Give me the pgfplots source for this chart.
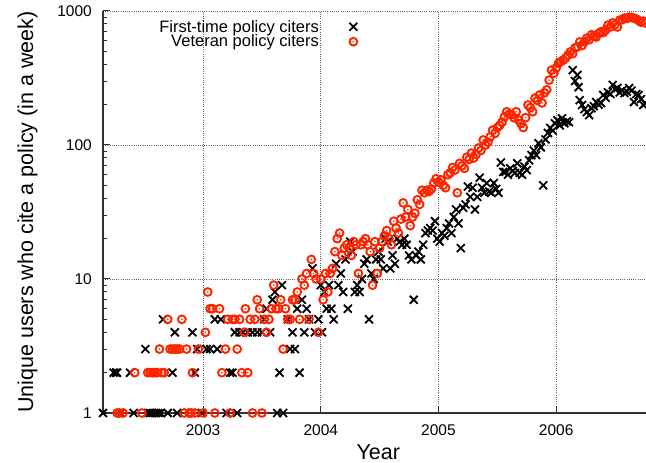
\documentclass[border=0pt]{standalone}
\usepackage{fontspec}
\setmainfont{Liberation Sans}
\usepackage{pgfplots}
\pgfplotsset{compat=1.18}
\definecolor{vet}{RGB}{255,36,0}
\definecolor{axgray}{RGB}{50,50,50}
\pgfdeclareplotmark{odot}{%
  \pgfpathcircle{\pgfpointorigin}{\pgfplotmarksize}\pgfusepathqstroke
  \pgfpathcircle{\pgfpointorigin}{0.22\pgfplotmarksize}\pgfusepathqfill}
\begin{document}
\begin{tikzpicture}
\begin{axis}[name=ax, scale only axis, width=543pt, height=402pt,
  ymode=log, xmin=2002.15, xmax=2006.763, ymin=1, ymax=1000,
  clip=false,
  axis x line*=bottom, axis y line*=left,
  axis line style={-, line width=1.4pt, axgray},
  xtick={2003,2004,2005,2006}, xticklabels={2003,2004,2005,2006},
  ytick={1,10,100,1000}, yticklabels={1,10,100,1000},
  minor ytick={2,3,...,9,20,30,...,90,200,300,...,900},
  minor xtick={},
  tick style={line width=1pt, axgray},
  major tick length=7pt, minor tick length=4pt,
  grid=major, major grid style={line width=0.7pt, black!60, dash pattern=on 0.8pt off 1.4pt},
  ticklabel style={font=\fontsize{15.5}{18}\selectfont, inner sep=0pt},
  yticklabel style={xshift=-11pt}, xticklabel style={yshift=-11pt},
  xlabel={Year}, ylabel={Unique users who cite a policy (in a week)},
  label style={font=\fontsize{21.5}{25}\selectfont, inner sep=0pt},
  xlabel style={at={(axis description cs:0.507,-0.078)}, anchor=north},
  ylabel style={at={(axis description cs:-0.12,0.5)}, anchor=south},
  legend style={at={(axis description cs:0.4687,0.978)}, anchor=north east, draw=none, fill=none,
    inner sep=0pt, column sep=30.5pt, row sep=1.5pt, nodes={inner sep=0pt}, font=\fontsize{16.5}{19}\selectfont},
  legend cell align=right, legend plot pos=right,
]
\addplot[black, only marks, mark=x, mark size=5.6pt, mark options={line width=1.8pt}] coordinates {
(2002.15,1)(2002.24,2)(2002.26,2)(2002.27,2)(2002.30,1)(2002.38,2)(2002.41,1)(2002.51,3)(2002.53,1)(2002.55,1)
(2002.57,1)(2002.60,1)(2002.62,1)(2002.64,1)(2002.66,5)(2002.70,1)(2002.74,2)(2002.76,4)(2002.78,1)(2002.91,4)
(2002.93,2)(2002.95,3)(2002.99,1)(2003.03,3)(2003.06,3)(2003.10,5)(2003.12,3)(2003.15,5)(2003.20,1)(2003.23,2)
(2003.25,2)(2003.27,4)(2003.29,1)(2003.31,4)(2003.34,4)(2003.38,4)(2003.42,4)(2003.46,4)(2003.50,4)(2003.52,5)
(2003.54,6)(2003.57,4)(2003.59,7)(2003.61,8)(2003.63,1)(2003.65,2)(2003.67,9)(2003.68,1)(2003.72,5)(2003.74,3)
(2003.76,4)(2003.78,3)(2003.80,6)(2003.82,2)(2003.84,7)(2003.86,4)(2003.88,6)(2003.90,5)(2003.93,12)(2003.95,4)
(2003.98,5)
(2004.00,9)(2004.01,4)(2004.03,8)(2004.05,6)(2004.07,9)(2004.09,6)(2004.11,5)(2004.13,13)(2004.15,9)(2004.17,11)
(2004.19,8)(2004.21,14)(2004.23,6)(2004.25,19)(2004.27,16)(2004.29,8)(2004.31,9)(2004.33,8)(2004.35,10)(2004.37,13)
(2004.39,14)(2004.41,5)(2004.43,11)(2004.45,10)(2004.47,14)(2004.49,16)(2004.51,14)(2004.53,12)(2004.55,20)(2004.57,19)
(2004.59,12)(2004.61,15)(2004.63,13)(2004.65,20)(2004.67,19)(2004.69,18)(2004.71,20)(2004.73,18)(2004.75,15)(2004.77,14)
(2004.79,7)(2004.81,15)(2004.83,16)(2004.85,14)(2004.87,18)(2004.89,22)(2004.91,23)(2004.93,24)(2004.95,23)(2004.97,27)
(2004.99,20)(2005.01,19)(2005.03,22)(2005.05,21)(2005.07,24)(2005.09,26)(2005.11,22)(2005.13,29)(2005.15,33)(2005.17,26)
(2005.19,17)(2005.21,34)(2005.23,36)(2005.25,49)(2005.27,41)(2005.29,48)(2005.31,33)(2005.33,41)(2005.35,57)(2005.37,48)
(2005.39,44)(2005.41,52)(2005.43,45)(2005.45,44)(2005.47,52)(2005.49,47)(2005.51,44)(2005.53,74)(2005.55,63)(2005.57,63)
(2005.59,60)(2005.61,67)(2005.63,64)(2005.65,62)(2005.67,73)(2005.69,62)(2005.71,60)(2005.73,69)(2005.75,65)(2005.77,77)
(2005.79,84)(2005.81,91)(2005.83,84)(2005.85,103)(2005.87,96)(2005.89,50)(2005.91,110)(2005.93,123)(2005.95,134)(2005.97,128)
(2005.99,145)(2006.01,153)(2006.03,140)(2006.05,158)(2006.07,145)(2006.09,150)(2006.11,148)(2006.14,362)(2006.16,300)(2006.18,333)
(2006.19,270)(2006.20,216)(2006.22,199)(2006.24,185)(2006.26,176)(2006.28,167)(2006.30,188)(2006.32,195)(2006.34,209)(2006.36,200)
(2006.38,206)(2006.40,236)(2006.42,225)(2006.44,247)(2006.46,240)(2006.48,281)(2006.50,260)(2006.52,266)(2006.54,247)(2006.56,255)
(2006.58,244)(2006.60,250)(2006.62,266)(2006.64,255)(2006.66,209)(2006.68,240)(2006.70,236)(2006.72,220)(2006.74,199)(2006.76,205)
};
\addlegendentry{First-time policy citers}
\addplot[vet, only marks, mark=odot, mark size=3.9pt, mark options={line width=1.9pt}] coordinates {
(2002.27,1)(2002.29,1)(2002.32,1)(2002.42,2)(2002.48,1)(2002.53,2)(2002.55,2)(2002.57,2)(2002.59,2)(2002.61,2)
(2002.63,3)(2002.65,2)(2002.67,2)(2002.70,5)(2002.72,3)(2002.74,3)(2002.76,3)(2002.78,3)(2002.80,3)(2002.82,5)
(2002.84,1)(2002.86,3)(2002.88,1)(2002.90,1)(2002.91,2)(2002.93,1)(2002.96,3)(2003.00,1)(2003.02,4)(2003.04,8)
(2003.06,6)(2003.08,6)(2003.10,1)(2003.14,6)(2003.16,2)(2003.19,3)(2003.21,5)(2003.23,1)(2003.25,5)(2003.27,5)
(2003.29,3)(2003.31,5)(2003.33,2)(2003.35,4)(2003.36,6)(2003.38,2)(2003.40,5)(2003.42,1)(2003.44,5)(2003.46,7)
(2003.48,6)(2003.50,1)(2003.52,5)(2003.54,4)(2003.56,5)(2003.58,6)(2003.60,9)(2003.62,6)(2003.64,6)(2003.66,7)
(2003.68,3)(2003.70,6)(2003.72,5)(2003.74,5)(2003.76,7)(2003.78,7)(2003.80,8)(2003.82,5)(2003.84,10)(2003.86,9)
(2003.88,11)(2003.90,5)(2003.92,14)(2003.94,11)(2003.96,10)
(2003.98,4)(2004.00,10)(2004.02,7)(2004.04,11)(2004.06,8)(2004.08,11)(2004.10,12)(2004.12,16)(2004.14,20)(2004.16,22)
(2004.18,15)(2004.20,17)(2004.22,18)(2004.24,17)(2004.26,15)(2004.28,19)(2004.30,18)(2004.32,11)(2004.34,18)(2004.36,19)
(2004.38,20)(2004.40,18)(2004.42,16)(2004.44,9)(2004.46,19)(2004.48,11)(2004.50,17)(2004.52,19)(2004.54,21)(2004.56,23)
(2004.58,20)(2004.60,18)(2004.62,27)(2004.64,24)(2004.66,22)(2004.68,28)(2004.70,37)(2004.72,29)(2004.74,33)(2004.76,25)
(2004.78,29)(2004.80,31)(2004.82,39)(2004.84,36)(2004.86,46)(2004.88,44)(2004.90,46)(2004.92,45)(2004.94,47)(2004.96,52)
(2004.98,56)(2005.00,53)(2005.02,55)(2005.04,50)(2005.06,48)(2005.08,60)(2005.10,62)(2005.12,68)(2005.14,65)(2005.16,44)
(2005.18,73)(2005.20,70)(2005.22,67)(2005.24,81)(2005.26,78)(2005.28,87)(2005.30,80)(2005.32,85)(2005.34,95)(2005.36,91)
(2005.38,109)(2005.40,100)(2005.42,105)(2005.44,115)(2005.46,129)(2005.48,122)(2005.50,135)(2005.52,140)(2005.54,148)(2005.56,162)
(2005.58,177)(2005.60,170)(2005.62,168)(2005.64,160)(2005.66,177)(2005.68,154)(2005.70,145)(2005.72,135)(2005.74,160)(2005.76,199)
(2005.78,190)(2005.80,177)(2005.82,224)(2005.84,215)(2005.86,236)(2005.88,206)(2005.90,245)(2005.92,258)(2005.94,305)(2005.96,362)
(2005.98,343)(2006.00,376)(2006.02,408)(2006.04,420)(2006.06,430)(2006.08,445)(2006.10,468)(2006.12,495)(2006.14,480)(2006.16,530)
(2006.18,540)(2006.20,588)(2006.22,553)(2006.24,590)(2006.26,627)(2006.28,610)(2006.30,665)(2006.32,650)(2006.34,640)(2006.36,680)
(2006.38,700)(2006.40,690)(2006.42,720)(2006.44,785)(2006.46,760)(2006.48,815)(2006.50,790)(2006.52,760)(2006.54,855)(2006.56,860)
(2006.58,885)(2006.60,880)(2006.62,900)(2006.64,895)(2006.66,885)(2006.68,870)(2006.70,850)(2006.72,825)(2006.74,840)(2006.76,815)
};
\addlegendentry{Veteran policy citers}
\end{axis}
\pgfresetboundingbox
\useasboundingbox ([xshift=-103pt,yshift=-50pt]ax.south west) rectangle ([yshift=11pt]ax.north east);
\end{tikzpicture}
\end{document}
